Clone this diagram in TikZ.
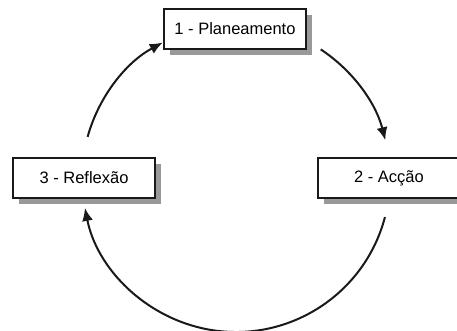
\documentclass[tikz,border=0pt]{standalone}
\usepackage{fontspec}
\setmainfont{Liberation Sans}
\usepackage{tikz}
\usetikzlibrary{arrows.meta, shadows}

\begin{document}
\begin{tikzpicture}[x=1pt, y=1pt,
    fase/.style = {draw = black!90, line width = 2pt, fill = white, minimum width = 142pt, minimum height = 40pt, inner sep = 0pt, font = \fontsize{16.5}{20}\selectfont, drop shadow = {shadow xshift = 6pt, shadow yshift = -6pt, fill = black!40, opacity = 1}},
    freccia/.style = {line width = 2pt, black!90, -{Latex[length = 13pt, width = 11pt]}}]
    % Parametri
    \pgfmathsetmacro{\raggio}{154}
    \useasboundingbox (0,0) rectangle (457,331);
    \coordinate (centro) at (236,153);
    % Fasi
    \node[fase] (plan) at (235,302) {1 - Planeamento};
    \node[fase] (accao) at (389,152.5) {2 - Acção};
    \node[fase] (refl) at (84,153) {3 - Reflexão};
    % Archi
    \path (centro) ++(164.5:\raggio) coordinate (ini1);
    \path (centro) ++(56.6:\raggio) coordinate (ini2);
    \path (centro) ++(-14.7:\raggio) coordinate (ini3);
    \draw[freccia] (ini1) arc[start angle = 164.5, end angle = 118.4, radius = \raggio];
    \draw[freccia] (ini2) arc[start angle = 56.6, end angle = 14.2, radius = \raggio];
    \draw[freccia] (ini3) arc[start angle = -14.7, end angle = -168.8, radius = \raggio];
\end{tikzpicture}
\end{document}
